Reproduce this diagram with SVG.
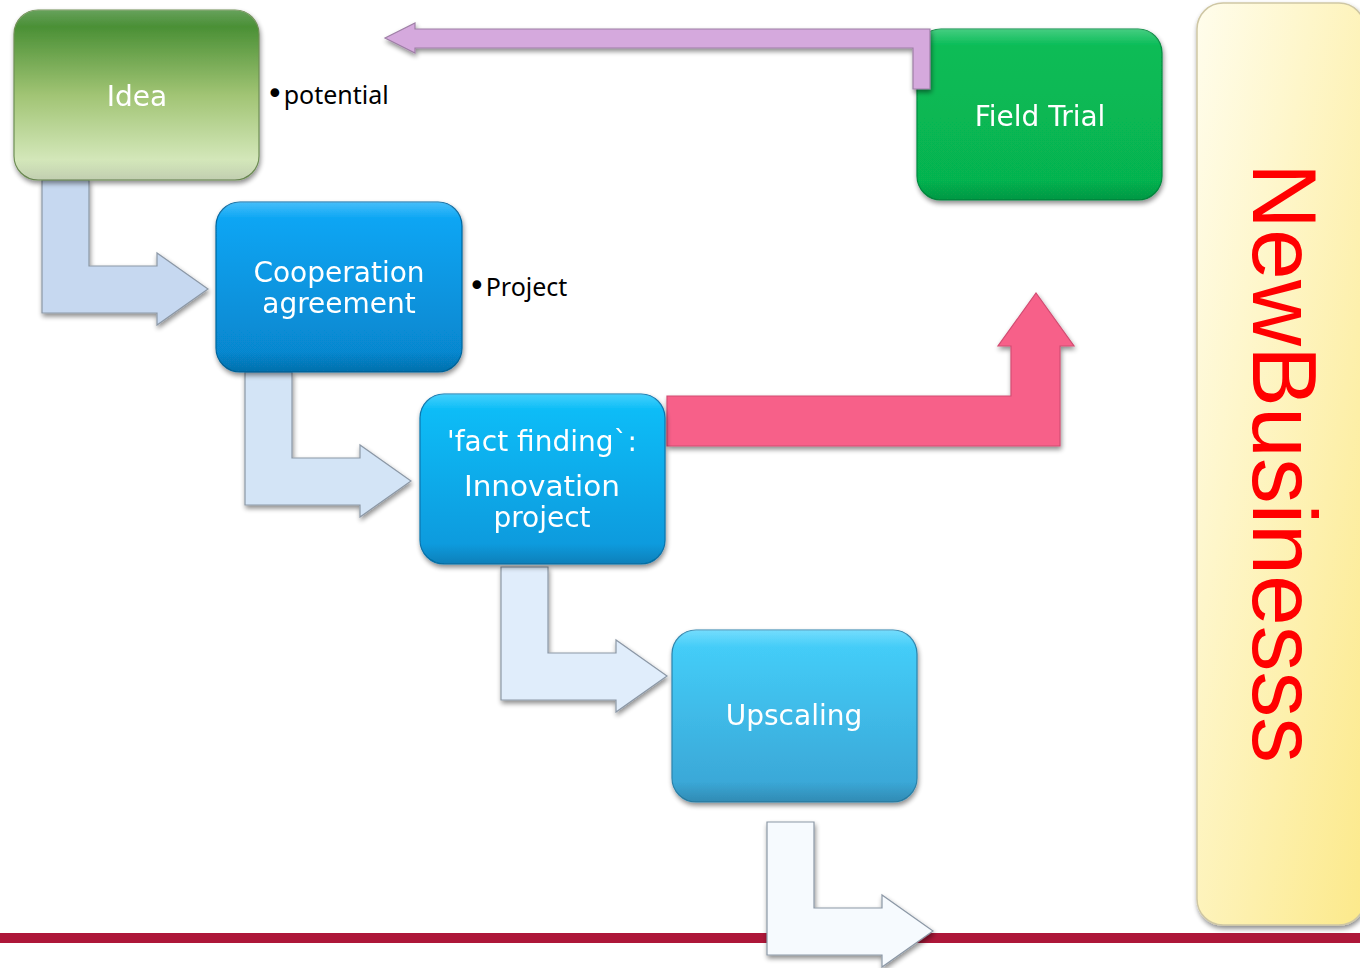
<svg xmlns="http://www.w3.org/2000/svg" width="1360" height="968" viewBox="0 0 1360 968">
<defs>
<style>
.lbl{font-family:"DejaVu Sans",Verdana,sans-serif;font-size:28px;fill:#ffffff;text-anchor:middle}
.note{font-family:"Noto Sans","Liberation Sans",sans-serif;font-size:25px;fill:#000000}
.bul{font-family:"DejaVu Sans",sans-serif;font-size:30px}
.box{filter:url(#sh)}
.bent{stroke:#8c98a6;stroke-width:1.2;filter:url(#sh)}
</style>
<filter id="sh" x="-10%" y="-10%" width="125%" height="130%">
<feGaussianBlur in="SourceAlpha" stdDeviation="2.5"/>
<feOffset dx="1" dy="3" result="b"/>
<feComponentTransfer><feFuncA type="linear" slope="0.45"/></feComponentTransfer>
<feMerge><feMergeNode/><feMergeNode in="SourceGraphic"/></feMerge>
</filter>
<linearGradient id="gIdea" x1="0" y1="0" x2="0" y2="1">
<stop offset="0" stop-color="#358326"/><stop offset="0.5" stop-color="#a1c474"/><stop offset="1" stop-color="#e3f2cf"/>
</linearGradient>
<linearGradient id="gCoop" x1="0" y1="0" x2="0" y2="1">
<stop offset="0" stop-color="#0aa9f8"/><stop offset="1" stop-color="#0683ca"/>
</linearGradient>
<linearGradient id="gFact" x1="0" y1="0" x2="0" y2="1">
<stop offset="0" stop-color="#08c0fa"/><stop offset="1" stop-color="#0896da"/>
</linearGradient>
<linearGradient id="gUp" x1="0" y1="0" x2="0" y2="1">
<stop offset="0" stop-color="#45d1fc"/><stop offset="1" stop-color="#39a3d3"/>
</linearGradient>
<linearGradient id="gField" x1="0" y1="0" x2="0" y2="1">
<stop offset="0" stop-color="#08bd57"/><stop offset="1" stop-color="#06b24f"/>
</linearGradient>
<linearGradient id="gYel" x1="0" y1="0" x2="1" y2="1">
<stop offset="0" stop-color="#fffdec"/><stop offset="1" stop-color="#fce98a"/>
</linearGradient>
<linearGradient id="gHi" x1="0" y1="0" x2="0" y2="1">
<stop offset="0" stop-color="#ffffff" stop-opacity="0.25"/><stop offset="0.1" stop-color="#ffffff" stop-opacity="0"/>
<stop offset="0.88" stop-color="#000000" stop-opacity="0"/><stop offset="1" stop-color="#000000" stop-opacity="0.15"/>
</linearGradient>
<path id="bentArrow" d="M0,0 H47 V86 H115 V73 L166,109 L115,145 V133 H0 Z"/>
</defs>
<rect x="0" y="0" width="1360" height="968" fill="#ffffff"/>
<rect id="baseline-bar" x="0" y="933" width="1360" height="10" fill="#ad1739"/>

<g id="newbusiness">
<rect x="1197" y="3" width="168" height="922" rx="26" fill="url(#gYel)" stroke="#cfc7a4" stroke-width="1.5" filter="url(#sh)"/>
<text transform="translate(1253,163) rotate(90)" font-family="'Liberation Sans',Arial,sans-serif" font-size="91" fill="#ff0000" textLength="600" lengthAdjust="spacingAndGlyphs">NewBusinesss</text>
</g>

<g id="connectors">
<use href="#bentArrow" transform="translate(42,180)" fill="#c6d8f0" class="bent"/>
<use href="#bentArrow" transform="translate(245,372)" fill="#d3e4f6" class="bent"/>
<use href="#bentArrow" transform="translate(501,567)" fill="#e0edfb" class="bent"/>
<use href="#bentArrow" transform="translate(767,822)" fill="#f6fafe" class="bent"/>
<path id="pink-arrow" d="M667,396 H1011 V346 H998 L1036,293 L1074,346 H1060 V446 H667 Z" fill="#f76189" stroke="#d24c72" stroke-width="1.2" filter="url(#sh)"/>
</g>

<g id="node-idea" class="box">
<rect x="14" y="10" width="245" height="170" rx="24" fill="url(#gIdea)" stroke="#6f8f55" stroke-width="1.2"/>
<rect x="14" y="10" width="245" height="170" rx="24" fill="url(#gHi)"/>
<text class="lbl" x="137" y="106">Idea</text>
</g>
<text id="note-potential" class="note" x="266" y="104"><tspan class="bul">•</tspan>potential</text>

<g id="node-coop" class="box">
<rect x="216" y="202" width="246" height="170" rx="24" fill="url(#gCoop)" stroke="#06679f" stroke-width="1.2"/>
<rect x="216" y="202" width="246" height="170" rx="24" fill="url(#gHi)"/>
<text class="lbl" x="339" y="282">Cooperation</text>
<text class="lbl" x="339" y="313">agreement</text>
</g>
<text id="note-project" class="note" x="468" y="296"><tspan class="bul">•</tspan>Project</text>

<g id="node-fact" class="box">
<rect x="420" y="394" width="245" height="170" rx="24" fill="url(#gFact)" stroke="#0874ad" stroke-width="1.2"/>
<rect x="420" y="394" width="245" height="170" rx="24" fill="url(#gHi)"/>
<text class="lbl" x="542" y="451">'fact finding`:</text>
<text class="lbl" x="542" y="496" textLength="156" lengthAdjust="spacingAndGlyphs">Innovation</text>
<text class="lbl" x="542" y="527">project</text>
</g>

<g id="node-upscaling" class="box">
<rect x="672" y="630" width="245" height="172" rx="24" fill="url(#gUp)" stroke="#2b84ad" stroke-width="1.2"/>
<rect x="672" y="630" width="245" height="172" rx="24" fill="url(#gHi)"/>
<text class="lbl" x="794" y="725">Upscaling</text>
</g>

<g id="node-fieldtrial" class="box">
<rect x="917" y="29" width="245" height="171" rx="24" fill="url(#gField)" stroke="#078a40" stroke-width="1.2"/>
<rect x="917" y="29" width="245" height="171" rx="24" fill="url(#gHi)"/>
<text class="lbl" x="1040" y="126">Field Trial</text>
</g>

<g id="connector-feedback">
<path d="M385,38 L415,23 V29 H930 V89 H913 V48 H415 V53 Z" fill="#d5a9dd" stroke="#9e7fa6" stroke-width="1.2" filter="url(#sh)"/>
</g>
</svg>
